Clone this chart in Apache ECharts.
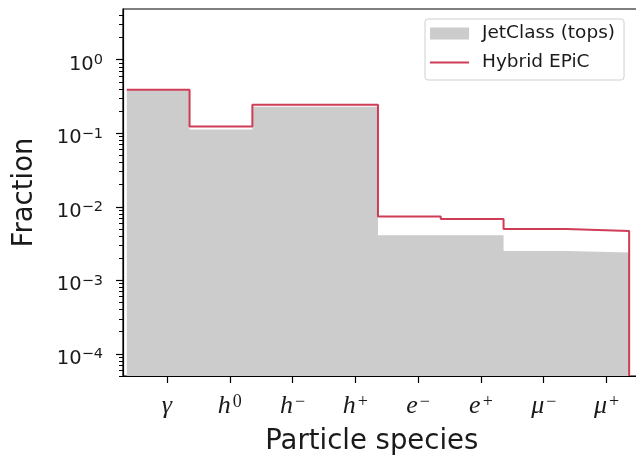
<!DOCTYPE html>
<html>
<head>
<meta charset="utf-8">
<script src="https://cdn.jsdelivr.net/npm/echarts@6/dist/echarts.min.js"></script>
<style>
html,body{margin:0;padding:0;background:#fff;}
#chart{width:636px;height:469px;}
</style>
</head>
<body>
<div id="chart"></div>
<script>
// ---- data ----
const labelBase = ['γ', 'h', 'h', 'h', 'e', 'e', 'μ', 'μ'];
const labelSup  = ['',  '0', '−', '+', '−', '+', '−', '+'];
const jetClass  = [0.385, 0.113, 0.23, 0.23, 0.0041, 0.0041, 0.0025, 0.0024];
const hybrid    = [0.39, 0.124, 0.244, 0.244, 0.0074, 0.0068, 0.0050, 0.0047];
const yTickExps = [0, -1, -2, -3, -4];

// ---- axis config ----
const yMin = 5e-5, yMax = 4.9;
const xMin = -0.70, xMax = 7.70;
const binOffset = -0.64; // bin left edge relative to category index

const edges = [];
for (let i = 0; i <= labelBase.length; i++) edges.push(i + binOffset);

function stepData(vals, dropToMin) {
  const d = vals.map((v, i) => [edges[i], v]);
  d.push([edges[vals.length], vals[vals.length - 1]]);
  if (dropToMin) d.push([edges[vals.length], yMin]);
  return d;
}

const majorTicks = yTickExps.map(e => Math.pow(10, e));
const minorTicks = [];
for (let e = -5; e <= 0; e++) {
  for (let k = 2; k <= 9; k++) {
    const v = k * Math.pow(10, e);
    if (v >= yMin && v <= yMax) minorTicks.push(v);
  }
}
const xTicks = labelBase.map((_, i) => i);

const red = '#d03c56';
const grey = '#cccccc';
const txt = '#1a1a1a';

const chart = echarts.init(document.getElementById('chart'), null, {renderer: 'canvas'});
const yAxisCommon = {
  type: 'log', min: yMin, max: yMax, logBase: 10,
  splitLine: {show: false}
};
chart.setOption({
  animation: false,
  backgroundColor: '#fff',
  grid: {left: 123, top: 9, width: 527.5, height: 367, outerBoundsMode: 'none', containLabel: false,
         show: true, borderColor: '#000', borderWidth: 1.2, backgroundColor: 'transparent'},
  legend: {
    orient: 'vertical',
    left: 425, top: 19,
    padding: [5, 9, 8, 5],
    itemWidth: 39, itemHeight: 12, itemGap: 10,
    borderColor: '#cfcfcf', borderWidth: 1, borderRadius: 3,
    backgroundColor: 'rgba(255,255,255,0.8)',
    textStyle: {fontFamily: 'DejaVu Sans', fontSize: 18.5, color: txt, lineHeight: 17, padding: [0, 0, 0, 8]},
    data: [
      {name: 'JetClass (tops)', icon: 'rect'},
      {name: 'Hybrid EPiC', icon: 'path://M0,0H40V2.2H0Z'}
    ]
  },
  xAxis: {
    type: 'value', min: xMin, max: xMax,
    name: 'Particle species', nameLocation: 'middle', nameGap: 52,
    nameTextStyle: {fontFamily: 'DejaVu Sans', fontSize: 27.5, color: txt, padding: [0, 30, 0, 0]},
    splitLine: {show: false},
    axisLine: {show: true, onZero: false, lineStyle: {color: '#000', width: 1.2}},
    axisTick: {show: true, customValues: xTicks, length: 7, lineStyle: {color: '#000', width: 1.2}},
    axisLabel: {
      customValues: xTicks, margin: 17,
      formatter: v => {
        const i = Math.round(v);
        return '{m|' + labelBase[i] + '}' + (labelSup[i] ? '{s|' + labelSup[i] + '}' : '');
      },
      rich: {
        m: {fontFamily: 'Liberation Serif', fontStyle: 'italic', fontSize: 26, color: txt, lineHeight: 27},
        s: {fontFamily: 'Liberation Serif', fontStyle: 'normal', fontSize: 18, color: txt, verticalAlign: 'top', lineHeight: 14, padding: [0, 0, 0, 2]}
      }
    }
  },
  yAxis: [
    Object.assign({}, yAxisCommon, {
      name: 'Fraction', nameLocation: 'middle', nameGap: 84,
      nameTextStyle: {fontFamily: 'DejaVu Sans', fontSize: 27.5, color: txt},
      axisLine: {show: true, onZero: false, lineStyle: {color: '#000', width: 1.2}},
      axisTick: {show: true, customValues: majorTicks, length: 7, lineStyle: {color: '#000', width: 1.2}},
      axisLabel: {
        customValues: majorTicks, margin: 20, padding: [10, 0, 0, 0],
        formatter: v => {
          const e = Math.round(Math.log10(v));
          return '{b|10}{s|' + (e < 0 ? '−' + (-e) : String(e)) + '}';
        },
        rich: {
          b: {fontFamily: 'DejaVu Sans', fontSize: 19.5, color: txt, lineHeight: 24},
          s: {fontFamily: 'DejaVu Sans', fontSize: 14.5, color: txt, verticalAlign: 'top', lineHeight: 14}
        }
      }
    }),
    Object.assign({}, yAxisCommon, {
      position: 'left',
      axisLine: {show: false, onZero: false},
      axisTick: {show: true, customValues: minorTicks, length: 4, lineStyle: {color: '#000', width: 1}},
      axisLabel: {show: false}
    })
  ],
  series: [
    {
      name: 'JetClass (tops)', type: 'line', step: 'end', symbol: 'none',
      color: grey,
      lineStyle: {width: 0, color: grey},
      areaStyle: {color: grey, opacity: 1, origin: 'start'},
      data: stepData(jetClass, false), z: 1
    },
    {
      name: 'Hybrid EPiC', type: 'line', step: 'end', symbol: 'none',
      color: red,
      lineStyle: {width: 2, color: red},
      data: stepData(hybrid, true), z: 3
    }
  ]
});
</script>
</body>
</html>
